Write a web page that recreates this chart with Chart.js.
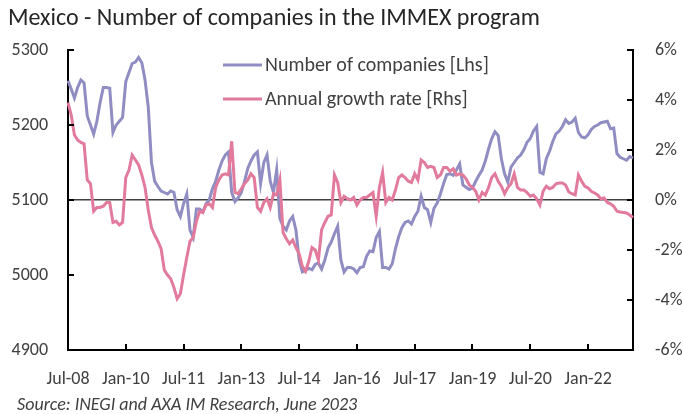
<!DOCTYPE html>
<html>
<head>
<meta charset="utf-8">
<script src="https://cdn.jsdelivr.net/npm/chart.js@4.4.0/dist/chart.umd.min.js"></script>
<style>
  html, body { margin: 0; padding: 0; background: #fff; }
  #wrap { position: relative; width: 683px; height: 414px; }
  #wrap canvas { position: absolute; left: 0; top: 0; }
  #title { position: absolute; left: 8px; top: 2px; font: 24px Carlito, Lato, sans-serif; color: #262626; white-space: nowrap; }
  #source { position: absolute; left: 17px; top: 393px; font: italic 18px Carlito, Lato, sans-serif; color: #404040; white-space: nowrap; }
</style>
</head>
<body>
<div id="wrap">
  <canvas id="immex-chart" width="683" height="414"></canvas>
  <div id="title">Mexico - Number of companies in the IMMEX program</div>
  <div id="source">Source: INEGI and AXA IM Research, June 2023</div>
</div>
<script>
// monthly, Jul-08 .. Mar-23
const companies = [
    5259, 5248, 5236, 5250, 5260, 5256, 5212, 5200, 5188, 5205,
    5230, 5250, 5250, 5249, 5190, 5200, 5205, 5210, 5258, 5270,
    5282, 5284, 5290, 5283, 5260, 5224, 5150, 5125, 5118, 5112,
    5110, 5108, 5112, 5110, 5087, 5078, 5095, 5108, 5060, 5050,
    5088, 5088, 5084, 5095, 5100, 5115, 5125, 5140, 5152, 5160,
    5164, 5110, 5098, 5103, 5110, 5125, 5142, 5152, 5160, 5164,
    5122, 5150, 5160, 5125, 5110, 5140, 5075, 5065, 5060, 5072,
    5078, 5060, 5020, 5004, 5006, 5009, 5007, 5014, 5016, 5008,
    5020, 5036, 5044, 5055, 5065, 5020, 5004, 5010, 5010, 5008,
    5003, 5010, 5011, 5025, 5032, 5031, 5050, 5058, 5010, 5010,
    5008, 5015, 5035, 5051, 5063, 5070, 5072, 5068, 5078, 5085,
    5105, 5090, 5087, 5070, 5089, 5096, 5108, 5122, 5134, 5135,
    5133, 5140, 5148, 5120, 5117, 5114, 5116, 5125, 5133, 5140,
    5152, 5168, 5182, 5191, 5186, 5155, 5135, 5124, 5144, 5150,
    5156, 5160, 5167, 5177, 5182, 5192, 5198, 5137, 5135, 5155,
    5165, 5178, 5188, 5192, 5198, 5207, 5202, 5204, 5209, 5190,
    5184, 5183, 5187, 5194, 5198, 5200, 5203, 5204, 5205, 5195,
    5196, 5162, 5157, 5155, 5153, 5158, 5156
];

const growthRate = [
    3.9, 3.4, 2.6, 2.4, 2.3, 2.25, 0.8, 0.65, -0.45, -0.3,
    -0.3, -0.25, -0.1, -0.1, -0.9, -0.85, -1.0, -0.9, 0.9, 1.2,
    1.8, 1.6, 1.4, 1.0, 0.5, -0.4, -1.1, -1.4, -1.65, -1.95,
    -2.8, -3.0, -3.15, -3.5, -3.95, -3.75, -3.0, -2.3, -1.65, -1.5,
    -0.85, -0.45, -0.5, -0.2, -0.15, -0.3, 0.5, 0.8, 1.0, 1.05,
    1.0, 2.35, 0.3, 0.25, 0.45, 0.65, 0.8, 1.05, 0.9, -0.3,
    -0.45, -0.1, 0.05, -0.3, 0.25, 0.2, 0.8, -1.3, -1.55, -1.75,
    -1.6, -1.9, -2.15, -2.65, -2.85, -2.45, -1.9, -2.0, -2.4, -1.2,
    -0.9, -0.65, -0.6, 1.0, 0.7, -0.1, 0.15, 0.05, 0.0, 0.1,
    -0.2, 0.0, 0.1, 0.1, 0.2, 0.3, -0.65, 0.5, 1.1, -0.1,
    0.1, 0.0, 0.4, 0.9, 1.0, 0.9, 0.75, 0.7, 1.05, 0.8,
    1.6, 1.5, 1.3, 1.35, 1.3, 0.9, 1.0, 1.3, 1.3, 1.15,
    1.25, 1.0, 1.05, 1.0, 0.85, 0.6, 0.5, 0.35, 0.0, 0.3,
    0.2, 0.5, 0.9, 1.05, 0.75, 0.55, 0.25, 0.5, 0.65, 1.05,
    0.5, 0.4, 0.4, 0.3, 0.15, 0.2, 0.05, -0.2, 0.35, 0.55,
    0.45, 0.5, 0.65, 0.68, 0.68, 0.6, 0.32, 0.25, 0.2, 1.0,
    0.75, 0.55, 0.48, 0.35, 0.28, 0.2, 0.05, 0.08, -0.1, -0.15,
    -0.25, -0.45, -0.48, -0.5, -0.52, -0.6, -0.7
];

const tickLabels = ['Jul-08', 'Jan-10', 'Jul-11', 'Jan-13', 'Jul-14', 'Jan-16', 'Jul-17', 'Jan-19', 'Jul-20', 'Jan-22'];
const leftTicks = [4900, 5000, 5100, 5200, 5300];
const rightTicks = [-6, -4, -2, 0, 2, 4, 6];
const seriesNames = ['Number of companies [Lhs]', 'Annual growth rate [Rhs]'];
const seriesColors = ['#8f8dc1', '#e27a9c'];

const monthNames = ['Jan', 'Feb', 'Mar', 'Apr', 'May', 'Jun', 'Jul', 'Aug', 'Sep', 'Oct', 'Nov', 'Dec'];
const months = companies.map((_, i) => {
    const m = 6 + i;
    const yr = 8 + Math.floor(m / 12);
    return monthNames[m % 12] + '-' + String(yr).padStart(2, '0');
});

const FONT = 'Carlito, Lato, sans-serif';
const TEXT = '#404040';

// small inward tick marks + legend inside the plot
const framePlugin = {
    id: 'frame',
    afterDraw(chart) {
        const { ctx, chartArea, scales } = chart;
        ctx.save();
        ctx.strokeStyle = '#000';
        ctx.lineWidth = 2;
        ctx.beginPath();
        tickLabels.forEach((lab) => {
            const idx = months.indexOf(lab);
            if (idx <= 0) return;
            const x = Math.round(scales.x.getPixelForValue(idx));
            ctx.moveTo(x, chartArea.bottom);
            ctx.lineTo(x, chartArea.bottom - 6);
        });
        leftTicks.forEach((v) => {
            const y = Math.round(scales.y.getPixelForValue(v));
            ctx.moveTo(chartArea.left, y);
            ctx.lineTo(chartArea.left + 6, y);
        });
        rightTicks.forEach((v) => {
            const y = Math.round(scales.y1.getPixelForValue(v));
            ctx.moveTo(chartArea.right, y);
            ctx.lineTo(chartArea.right - 6, y);
        });
        ctx.stroke();

        // legend
        ctx.font = '20px ' + FONT;
        ctx.textBaseline = 'middle';
        ctx.textAlign = 'left';
        seriesNames.forEach((name, i) => {
            const y = 65 + i * 34;
            ctx.strokeStyle = seriesColors[i];
            ctx.lineWidth = 3;
            ctx.beginPath();
            ctx.moveTo(223, y);
            ctx.lineTo(262, y);
            ctx.stroke();
            ctx.fillStyle = TEXT;
            ctx.fillText(name, 265, y + 1);
        });
        ctx.restore();
    },
};

new Chart(document.getElementById('immex-chart'), {
    type: 'line',
    data: {
        labels: months,
        datasets: [
            {
                label: seriesNames[0],
                data: companies,
                yAxisID: 'y',
                borderColor: seriesColors[0],
                borderWidth: 3,
                pointRadius: 0,
                tension: 0,
                order: 2,
            },
            {
                label: seriesNames[1],
                data: growthRate,
                yAxisID: 'y1',
                borderColor: seriesColors[1],
                borderWidth: 3,
                pointRadius: 0,
                tension: 0,
                order: 1,
            },
        ],
    },
    options: {
        responsive: false,
        animation: false,
        events: [],
        layout: {
            padding: { top: 50, left: 0, right: 0, bottom: 0 },
        },
        scales: {
            x: {
                type: 'category',
                offset: false,
                grid: { display: true, drawOnChartArea: false, drawTicks: false },
                border: { color: '#000', width: 2 },
                ticks: {
                    autoSkip: false,
                    maxRotation: 0,
                    minRotation: 0,
                    padding: 19,
                    color: TEXT,
                    font: { family: FONT, size: 18 },
                    callback: (val, idx) => (tickLabels.includes(months[idx]) ? months[idx] : ''),
                },
                afterFit: (scale) => { scale.height = 64; },
            },
            y: {
                position: 'left',
                min: 4900,
                max: 5300,
                grid: { display: true, drawOnChartArea: false, drawTicks: false },
                border: { color: '#000', width: 2 },
                ticks: {
                    stepSize: 100,
                    padding: 20,
                    color: TEXT,
                    font: { family: FONT, size: 18 },
                    callback: (v) => String(v),
                },
                afterFit: (scale) => { scale.width = 68; },
            },
            y1: {
                position: 'right',
                min: -6,
                max: 6,
                grid: {
                    display: true,
                    drawOnChartArea: true,
                    drawTicks: false,
                    color: (c) => (c.tick && c.tick.value === 0 ? '#404040' : 'rgba(0,0,0,0)'),
                    lineWidth: 1.5,
                },
                border: { color: '#000', width: 2 },
                ticks: {
                    stepSize: 2,
                    padding: 22,
                    color: TEXT,
                    font: { family: FONT, size: 18 },
                    callback: (v) => v + '%',
                },
                afterFit: (scale) => { scale.width = 50; },
            },
        },
        plugins: {
            legend: { display: false },
            tooltip: { enabled: false },
        },
    },
    plugins: [framePlugin],
});
</script>
</body>
</html>
